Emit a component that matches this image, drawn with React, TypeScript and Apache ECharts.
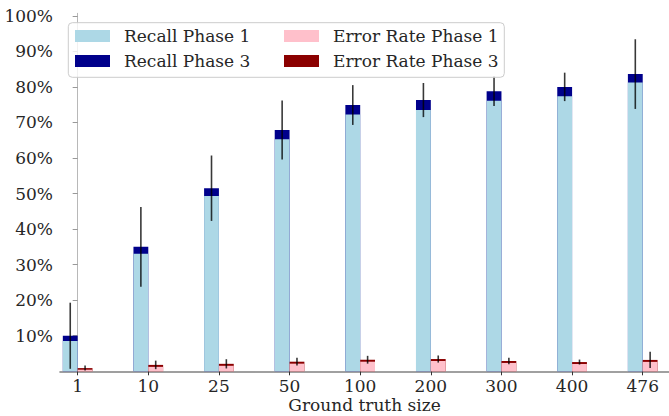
import React, { useEffect, useRef } from "react";
import * as echarts from "echarts";

const categories = ["1", "10", "25", "50", "100", "200", "300", "400", "476"];
const recallPhase1 = [8.5, 33.1, 49.3, 65.3, 72.2, 73.5, 76.1, 77.4, 81.2];
const recallPhase3 = [10.0, 35.0, 51.5, 67.9, 74.9, 76.3, 78.8, 80.0, 83.6];
const recallErr = [9.3, 11.2, 9.2, 8.3, 5.6, 4.8, 4.2, 4.0, 9.8];
const errorPhase1 = [0.45, 1.25, 1.55, 2.15, 2.7, 2.9, 2.35, 2.05, 2.65];
const errorPhase3 = [0.9, 1.8, 2.1, 2.7, 3.25, 3.45, 2.9, 2.6, 3.2];
const errorErr = [0.7, 1.2, 1.3, 1.1, 1.1, 1.0, 0.9, 0.7, 2.3];
const yTicks = [10, 20, 30, 40, 50, 60, 70, 80, 90, 100];

const FONT = "DejaVu Serif";
const BW = 0.21;
const TEXT = "#262626";

function barSeries(name: string, values: number[], color: string, side: number) {
  return {
    type: "custom",
    name,
    itemStyle: { color },
    data: values.map((v, i) => [i, v]),
    encode: { x: 0, y: 1 },
    renderItem: (_p: any, api: any) => {
      const i = api.value(0);
      const v = api.value(1);
      const x0 = side < 0 ? i - BW : i;
      const x1 = side < 0 ? i : i + BW;
      const a = api.coord([x0, v]);
      const b = api.coord([x1, 0]);
      return {
        type: "rect",
        shape: { x: a[0], y: a[1], width: b[0] - a[0], height: b[1] - a[1] },
        style: { fill: color },
      };
    },
  };
}

function errSeries(centers: number[], errs: number[], side: number) {
  return {
    type: "custom",
    data: centers.map((v, i) => [i, v, errs[i]]),
    encode: { x: 0, y: 1 },
    renderItem: (_p: any, api: any) => {
      const i = api.value(0);
      const v = api.value(1);
      const e = api.value(2);
      const cx = i + (side * BW) / 2;
      const a = api.coord([cx, v - e]);
      const b = api.coord([cx, v + e]);
      return {
        type: "line",
        shape: { x1: a[0], y1: a[1], x2: b[0], y2: b[1] },
        style: { stroke: "rgba(0,0,0,0.78)", lineWidth: 1.6 },
      };
    },
  };
}

export default function App() {
  const ref = useRef<HTMLDivElement>(null);
  useEffect(() => {
    document.body.style.margin = "0";
    const chart = echarts.init(ref.current!, null, { renderer: "svg" });
    const legendCommon = {
      orient: "vertical",
      top: 27.5,
      itemWidth: 35,
      itemHeight: 12,
      itemGap: 8,
      padding: 0,
      icon: "rect",
      selectedMode: false,
      z: 60,
      textStyle: { fontFamily: FONT, fontSize: 17, color: TEXT, padding: [0, 0, 0, 9] },
    };
    chart.setOption({
      animation: false,
      grid: { left: 60, right: 0, top: 13.3, bottom: 44.7, outerBoundsMode: "none" },
      xAxis: {
        type: "value",
        min: -0.25,
        max: 8.372,
        splitLine: { show: false },
        axisLine: { show: true, lineStyle: { color: "#808080", width: 1.6 } },
        axisTick: {
          show: true,
          customValues: categories.map((_, i) => i),
          length: 4,
          lineStyle: { color: "#333", width: 1 },
        },
        axisLabel: {
          customValues: categories.map((_, i) => i),
          formatter: (v: number) => categories[Math.round(v)],
          fontFamily: FONT,
          fontSize: 17,
          color: TEXT,
          margin: 6,
        },
        name: "Ground truth size",
        nameLocation: "middle",
        nameGap: 25,
        nameMoveOverlap: false,
        nameTextStyle: { fontFamily: FONT, fontSize: 17, color: TEXT, lineHeight: 17 },
      },
      yAxis: {
        type: "value",
        min: 0,
        max: 100.7,
        splitLine: { show: false },
        axisLine: { show: true, lineStyle: { color: "#b8b8b8", width: 1 } },
        axisTick: { show: true, customValues: yTicks, length: 5, lineStyle: { color: "#999", width: 1 } },
        axisLabel: {
          customValues: yTicks,
          formatter: (v: number) => `${v}%`,
          fontFamily: FONT,
          fontSize: 17,
          color: TEXT,
          margin: 7,
        },
      },
      legend: [
        { ...legendCommon, left: 75, data: ["Recall Phase 1", "Recall Phase 3"] },
        { ...legendCommon, left: 284, data: ["Error Rate Phase 1", "Error Rate Phase 3"] },
      ],
      graphic: [
        {
          type: "rect",
          z: 50,
          shape: { x: 68.3, y: 22.7, width: 436, height: 54.6, r: 4 },
          style: { fill: "rgba(255,255,255,0.8)", stroke: "#cccccc", lineWidth: 1 },
        },
      ],
      series: [
        barSeries("Recall Phase 3", recallPhase3, "#00008B", -1),
        barSeries("Recall Phase 1", recallPhase1, "#ADD8E6", -1),
        barSeries("Error Rate Phase 3", errorPhase3, "#8B0000", 1),
        barSeries("Error Rate Phase 1", errorPhase1, "#FFC0CB", 1),
        errSeries(recallPhase3, recallErr, -1),
        errSeries(errorPhase3, errorErr, 1),
      ],
    });
    return () => chart.dispose();
  }, []);
  return <div ref={ref} style={{ width: 669, height: 416 }} />;
}
